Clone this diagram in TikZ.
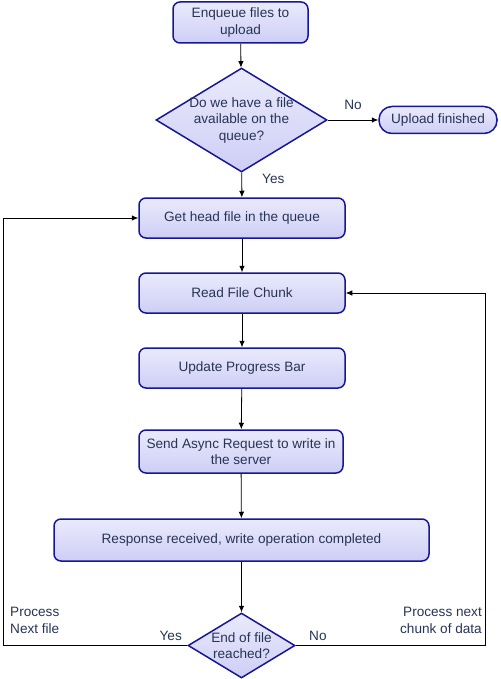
\documentclass[tikz,border=0pt]{standalone}
\usepackage{fontspec}
\setmainfont{Liberation Sans}
\usetikzlibrary{shapes.geometric,arrows.meta}
\definecolor{boxtop}{RGB}{234,234,252}
\definecolor{boxbot}{RGB}{206,206,246}
\definecolor{boxline}{RGB}{22,22,150}
\definecolor{txt}{RGB}{40,52,85}
\tikzset{
  x=1pt,y=-1pt,
  base/.style={draw=boxline,line width=1.5pt,top color=boxtop,bottom color=boxbot,text=txt,font=\fontsize{13.6}{16.5}\selectfont,align=center,inner sep=0pt},
  procbox/.style={base,rectangle,rounded corners=7pt},
  decbox/.style={base,diamond},
  endbox/.style={base,rectangle,rounded corners=13pt},
  conn/.style={draw=black,line width=0.8pt,-{Latex[length=6.5pt,width=5.5pt]}},
  plain/.style={draw=black,line width=0.8pt},
  lbl/.style={text=txt,font=\fontsize{13.6}{16.5}\selectfont,inner sep=0pt},
  dtext/.style={lbl,align=center}
}
\begin{document}
\begin{tikzpicture}
\useasboundingbox (0,0) rectangle (500,679);
\node[procbox,minimum width=135pt,minimum height=41pt] (enq) at (240.5,22.5) {Enqueue files to\\upload};
\node[decbox,minimum width=171pt,minimum height=104pt,aspect=1.64,
  label={[dtext]center:Do we have a file\\available on the\\queue?}] (q) at (241.5,120) {};
\node[endbox,minimum width=118pt,minimum height=27pt] (fin) at (438,120) {Upload finished};
\node[procbox,minimum width=206pt,minimum height=40pt] (head) at (242,218) {Get head file in the queue};
\node[procbox,minimum width=206pt,minimum height=40pt] (read) at (242,293) {Read File Chunk};
\node[procbox,minimum width=206pt,minimum height=40pt] (prog) at (242,368) {Update Progress Bar};
\node[procbox,minimum width=204pt,minimum height=43pt] (send) at (241,451.5) {Send Async Request to write in\\the server};
\node[procbox,minimum width=375pt,minimum height=42pt] (resp) at (241.5,540) {Response received, write operation completed};
\node[decbox,minimum width=107pt,minimum height=65pt,aspect=1.65,
  label={[dtext]center:End of file\\reached?}] (eof) at (241.5,645.5) {};
\coordinate (lt) at (3,645.5);
\coordinate (lb) at (3,218);
\coordinate (rt) at (485,645.5);
\coordinate (rb) at (485,293);
\draw[conn] (enq) -- (q);
\draw[conn] (q) -- (fin) node[lbl,pos=0.5,above=10pt] {No};
\draw[conn] (q) -- (head) node[lbl,pos=0.25,right=20pt] {Yes};
\draw[conn] (head) -- (read);
\draw[conn] (read) -- (prog);
\draw[conn] (prog) -- (send);
\draw[conn] (send) -- (resp);
\draw[conn] (resp) -- (eof);
\draw[plain] (eof.west) -- (lt);
\draw[conn] (lt) -- (lb) -- (head.west);
\draw[plain] (eof.east) -- (rt);
\draw[conn] (rt) -- (rb) -- (read.east);
\node[lbl,anchor=east] (yes2) at (182,636) {Yes};
\node[lbl,anchor=west] (no2) at (309,636) {No};
\node[lbl,anchor=north west,align=left,font=\fontsize{13.6}{17}\selectfont] (pn) at (10,607) {Process\\Next file};
\node[lbl,anchor=north east,align=right,font=\fontsize{13.6}{17}\selectfont] (pc) at (482,607) {Process next\\chunk of data};
\end{tikzpicture}
\end{document}
